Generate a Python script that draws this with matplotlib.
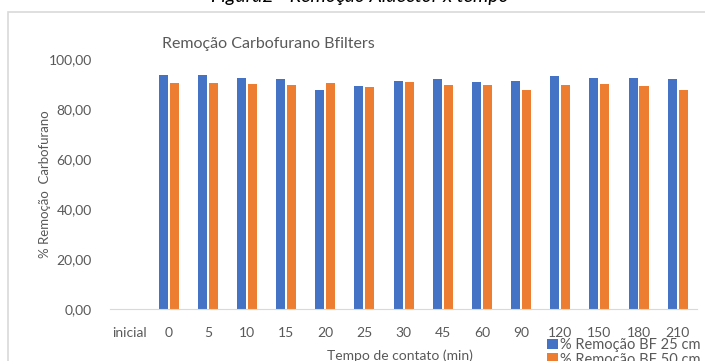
import matplotlib.pyplot as plt
import numpy as np
from matplotlib.patches import Rectangle

plt.rcParams['font.family'] = ['Lato', 'DejaVu Sans']

# data
tempos = ["inicial", "0", "5", "10", "15", "20", "25", "30", "45", "60", "90", "120", "150", "180", "210"]
bf25 = [0, 93.6, 93.5, 92.3, 91.9, 87.6, 89.2, 91.1, 92.1, 90.8, 91.3, 93.1, 92.4, 92.5, 91.9]
bf50 = [0, 90.3, 90.3, 90.0, 89.5, 90.3, 88.8, 90.7, 89.5, 89.5, 87.6, 89.6, 90.0, 89.1, 87.5]

txt = "#595959"
fig = plt.figure(figsize=(7.05, 3.61), dpi=100)
ax = fig.add_axes([0.156, 0.144, 0.833, 0.6926])

x = np.arange(len(tempos))
w = 0.23
b1 = ax.bar(x - 0.14, bf25, w, color="#4472C4", label="% Remoção BF 25 cm")
b2 = ax.bar(x + 0.14, bf50, w, color="#ED7D31", label="% Remoção BF 50 cm")

ax.set_xlim(-0.5, len(tempos) - 0.5)
ax.set_ylim(0, 100)
ax.set_yticks(np.arange(0, 101, 20))
ax.set_yticklabels([("%.2f" % v).replace(".", ",") for v in np.arange(0, 101, 20)])
ax.set_xticks(x)
ax.set_xticklabels(tempos)
ax.tick_params(axis="both", length=0, labelsize=10, colors=txt)
ax.tick_params(axis="y", pad=13)
ax.tick_params(axis="x", pad=13)
for s in ["top", "right", "left"]:
    ax.spines[s].set_visible(False)
ax.spines["bottom"].set_color("#D9D9D9")

ax.set_ylabel("% Remoção  Carbofurano", fontsize=9.5, color=txt)
ax.yaxis.set_label_coords(-0.1, 0.5)
fig.text(0.567, 0.015, "Tempo de contato (min)", ha="center", va="center", fontsize=10, color=txt)
fig.text(0.38, 0.877, "Remoção Carbofurano Bfilters", ha="center", va="center", fontsize=11.5,
         color=txt)
fig.text(0.51, 0.994, "Figura2 - Remoção Aldector x tempo", ha="center", va="baseline",
         fontsize=14, style="italic", color="black")

# chart border
fig.patches.append(Rectangle((0.011, -0.1), 1.1, 1.066, transform=fig.transFigure,
                             fill=False, edgecolor="#D9D9D9", linewidth=1.2))

fig.legend(handles=[b1, b2], loc="upper left", bbox_to_anchor=(0.766, 0.084), frameon=False,
           fontsize=10.5, labelcolor=txt, handlelength=0.7, handleheight=0.7,
           handletextpad=0.2, labelspacing=0.05, borderpad=0)

fig.savefig("out.png", dpi=100)
